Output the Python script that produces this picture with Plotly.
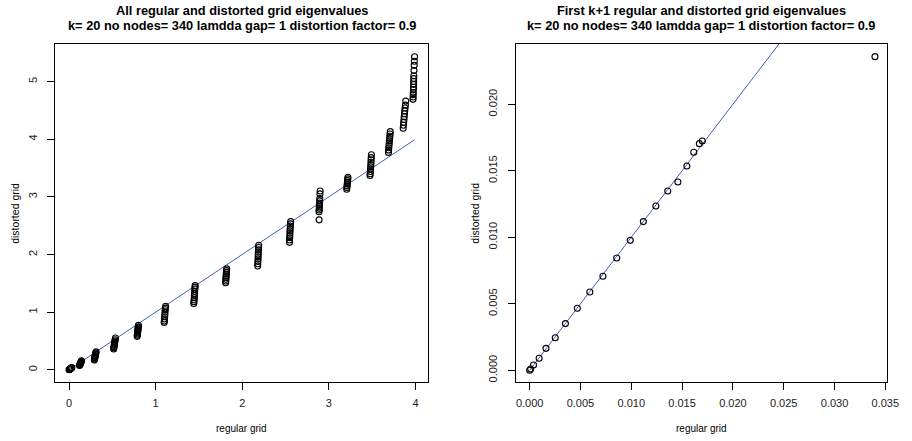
import plotly.graph_objects as go

# ---- Left panel: all eigenvalues (regular vs distorted), grouped by visible column ----
regular_all = [
    0.000, 0.003, 0.006, 0.010, 0.015, 0.020, 0.026, 0.032,
    0.120, 0.124, 0.127, 0.130, 0.133, 0.136, 0.139, 0.143,
    0.292, 0.294, 0.296, 0.298, 0.300, 0.302, 0.304, 0.306, 0.309, 0.312,
    0.515, 0.517, 0.519, 0.521, 0.523, 0.525, 0.527, 0.529, 0.532, 0.535,
    0.786, 0.788, 0.790, 0.791, 0.793, 0.794, 0.796, 0.797, 0.799, 0.801,
    1.098, 1.100, 1.102, 1.104, 1.106, 1.108, 1.110, 1.112, 1.115,
    1.440, 1.442, 1.444, 1.446, 1.447, 1.449, 1.450, 1.452, 1.454, 1.456,
    1.808, 1.809, 1.811, 1.812, 1.814, 1.815, 1.817, 1.818, 1.820,
    2.178, 2.179, 2.180, 2.182, 2.183, 2.184, 2.185, 2.187, 2.188, 2.190,
    2.545, 2.546, 2.548, 2.549, 2.550, 2.552, 2.553, 2.555, 2.557, 2.559,
    2.887, 2.886, 2.888, 2.889, 2.890, 2.891, 2.893, 2.894, 2.895, 2.897, 2.899,
    3.206, 3.208, 3.210, 3.212, 3.214, 3.216, 3.218, 3.220,
    3.475, 3.477, 3.479, 3.481, 3.483, 3.485, 3.486, 3.488, 3.489, 3.491,
    3.688, 3.690, 3.692, 3.694, 3.697, 3.699, 3.702, 3.704, 3.706, 3.709,
    3.858, 3.861, 3.864, 3.867, 3.870, 3.873, 3.876, 3.880, 3.884, 3.888,
    3.972, 3.973, 3.974, 3.975, 3.976, 3.977, 3.978, 3.979, 3.980, 3.981, 3.983, 3.985, 3.987, 3.989,
]
distorted_all = [
    0.000, 0.004, 0.008, 0.013, 0.018, 0.024, 0.031, 0.040,
    0.075, 0.088, 0.098, 0.108, 0.118, 0.128, 0.140, 0.155,
    0.170, 0.185, 0.200, 0.215, 0.230, 0.245, 0.260, 0.275, 0.290, 0.310,
    0.360, 0.380, 0.400, 0.420, 0.440, 0.460, 0.480, 0.500, 0.520, 0.550,
    0.580, 0.600, 0.620, 0.640, 0.660, 0.680, 0.700, 0.720, 0.740, 0.770,
    0.820, 0.845, 0.880, 0.920, 0.960, 1.000, 1.040, 1.070, 1.100,
    1.150, 1.180, 1.210, 1.250, 1.290, 1.320, 1.360, 1.400, 1.430, 1.460,
    1.510, 1.540, 1.570, 1.600, 1.630, 1.660, 1.690, 1.720, 1.750,
    1.800, 1.840, 1.880, 1.920, 1.960, 2.000, 2.040, 2.080, 2.120, 2.160,
    2.210, 2.250, 2.290, 2.330, 2.370, 2.410, 2.450, 2.490, 2.530, 2.570,
    2.600, 2.740, 2.770, 2.800, 2.830, 2.860, 2.890, 2.930, 2.970, 3.050, 3.100,
    3.130, 3.160, 3.190, 3.220, 3.250, 3.280, 3.310, 3.340,
    3.370, 3.400, 3.440, 3.480, 3.520, 3.560, 3.600, 3.640, 3.680, 3.730,
    3.770, 3.810, 3.850, 3.890, 3.930, 3.970, 4.010, 4.050, 4.090, 4.130,
    4.190, 4.240, 4.290, 4.340, 4.390, 4.440, 4.490, 4.540, 4.590, 4.660,
    4.690, 4.730, 4.770, 4.810, 4.860, 4.900, 4.950, 5.000, 5.050, 5.100, 5.190, 5.280, 5.350, 5.430,
]

# ---- Right panel: first k+1 eigenvalues ----
regular_first = [0.0000, 0.0001, 0.000385, 0.000935, 0.00161, 0.00252, 0.00352, 0.00469,
                 0.00592, 0.00721, 0.00857, 0.00990, 0.01119, 0.01242, 0.01359, 0.01459,
                 0.01547, 0.01615, 0.01670, 0.01699, 0.03398]
distorted_first = [0.0000, 0.0001, 0.00040, 0.00090, 0.00165, 0.00245, 0.00351, 0.00466,
                   0.00589, 0.00707, 0.00844, 0.00977, 0.01118, 0.01235, 0.01348, 0.01416,
                   0.01536, 0.01639, 0.01704, 0.01724, 0.02358]

left_xticks = [0, 1, 2, 3, 4]
left_yticks = [0, 1, 2, 3, 4, 5]
right_xticks = [0.000, 0.005, 0.010, 0.015, 0.020, 0.025, 0.030, 0.035]
right_yticks = [0.000, 0.005, 0.010, 0.015, 0.020]

title_left = "All regular and distorted grid eigenvalues"
title_right = "First k+1 regular and distorted grid eigenvalues"
subtitle = "k= 20 no nodes= 340 lamdda gap= 1 distortion factor= 0.9"
xlab = "regular grid"
ylab = "distorted grid"

FONT = "Liberation Sans, Arial, Helvetica, sans-serif"
W, H = 912, 441
LINE_COLOR = "#3f5fbf"

fig = go.Figure()

marker_style = dict(symbol="circle-open", size=6, color="black",
                    line=dict(width=1.1, color="black"))

line_left = sorted(regular_all)
fig.add_trace(go.Scatter(x=line_left, y=line_left, mode="lines",
                         line=dict(color=LINE_COLOR, width=1), xaxis="x", yaxis="y",
                         hoverinfo="skip"))
fig.add_trace(go.Scatter(x=regular_all, y=distorted_all, mode="markers",
                         marker=marker_style, xaxis="x", yaxis="y"))

line_right = sorted(regular_first)
fig.add_trace(go.Scatter(x=line_right, y=line_right, mode="lines",
                         line=dict(color=LINE_COLOR, width=1), xaxis="x2", yaxis="y2",
                         hoverinfo="skip"))
fig.add_trace(go.Scatter(x=regular_first, y=distorted_first, mode="markers",
                         marker=marker_style, xaxis="x2", yaxis="y2"))

# plot boxes in pixels
L1, R1 = 55.7, 434.0
L2, R2 = 522.7, 899.0
T, B = 44.0, 382.0

common = dict(showgrid=False, zeroline=False, showline=True, mirror=True,
              linecolor="black", linewidth=1, ticks="outside", ticklen=7,
              tickcolor="black", tickwidth=1,
              tickfont=dict(family=FONT, size=11, color="#222"))

fig.update_layout(
    width=W, height=H,
    margin=dict(l=0, r=0, t=0, b=0),
    paper_bgcolor="white", plot_bgcolor="white",
    showlegend=False,
    xaxis=dict(domain=[L1 / W, R1 / W], range=[-0.163, 4.148], tickvals=left_xticks,
               ticktext=[str(v) for v in left_xticks], anchor="y",
               ticklabelstandoff=4, **common),
    yaxis=dict(domain=[(H - B) / H, (H - T) / H], range=[-0.212, 5.65], tickvals=left_yticks,
               ticktext=[str(v) for v in left_yticks], anchor="x", tickangle=-90,
               ticklabelstandoff=6, **common),
    xaxis2=dict(domain=[L2 / W, R2 / W], range=[-0.00136, 0.03518], tickvals=right_xticks,
                ticktext=[f"{v:.3f}" for v in right_xticks], anchor="y2",
                ticklabelstandoff=4, **common),
    yaxis2=dict(domain=[(H - B) / H, (H - T) / H], range=[-0.00088, 0.02453], tickvals=right_yticks,
                ticktext=[f"{v:.3f}" for v in right_yticks], anchor="x2", tickangle=-90,
                ticklabelstandoff=6, **common),
)

ann = []
def text(x, y, s, size, bold=False, angle=0):
    ann.append(dict(x=x / W, y=1 - y / H, xref="paper", yref="paper", text=f"<b>{s}</b>" if bold else s,
                    showarrow=False, xanchor="center", yanchor="middle", textangle=angle,
                    font=dict(family=FONT, size=size, color="black")))

cx1, cx2 = (L1 + R1) / 2, (L2 + R2) / 2
text(cx1, 10.5, title_left, 12.8, bold=True)
text(cx1, 25.5, subtitle, 12.8, bold=True)
text(cx2, 10.5, title_right, 12.8, bold=True)
text(cx2, 25.5, subtitle, 12.8, bold=True)
text(cx1, 428, xlab, 10)
text(cx2, 428, xlab, 10)
text(15, (T + B) / 2, ylab, 10.5, angle=-90)
text(481, (T + B) / 2, ylab, 10.5, angle=-90)
fig.update_layout(annotations=ann)

fig.write_html("out.html")
